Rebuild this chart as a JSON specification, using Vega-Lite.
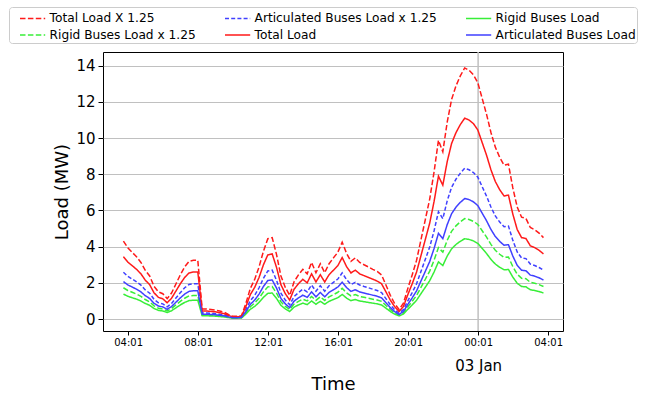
{
"$schema": "https://vega.github.io/schema/vega-lite/v6.json",
"width": 460, "height": 279,
"autosize": "none",
"padding": {"left": 103, "top": 52, "right": 83, "bottom": 64},
"background": "white",
"config": {"font": "DejaVu Sans", "view": {"stroke": "black", "strokeWidth": 1}},
"resolve": {"scale": {"x": "independent"}, "axis": {"x": "independent"}},
"layer": [
{
"data": {"values": [{"t": "2020-01-03T00:01:00Z"}]},
"mark": {"type": "rule", "color": "#c0c0c0", "strokeWidth": 1.5},
"encoding": {
"x": {"field": "t", "type": "temporal",
"scale": {"type": "utc", "domain": [{"year": 2020, "month": 1, "date": 2, "hours": 2, "minutes": 35, "utc": true}, {"year": 2020, "month": 1, "date": 3, "hours": 4, "minutes": 52, "utc": true}]},
"axis": {"orient": "bottom", "values": [{"year": 2020, "month": 1, "date": 3, "hours": 0, "minutes": 1, "utc": true}], "labelExpr": "'03 Jan'", "domain": false, "ticks": false, "tickSize": 0, "grid": false, "labelFontSize": 15, "labelPadding": 27, "labelColor": "black", "labelFlush": false, "title": "Time", "titleFontSize": 18, "titleFontWeight": "normal", "titleColor": "black", "titlePadding": 2}}
}
},
{
"data": {"values": [
{"t":"2020-01-02T03:45:00Z","T":3.45,"A":2.07,"R":1.38,"T125":4.31,"A125":2.59,"R125":1.73},
{"t":"2020-01-02T04:00:00Z","T":3.15,"A":1.89,"R":1.26,"T125":3.94,"A125":2.36,"R125":1.58},
{"t":"2020-01-02T04:15:00Z","T":2.95,"A":1.77,"R":1.18,"T125":3.69,"A125":2.21,"R125":1.48},
{"t":"2020-01-02T04:30:00Z","T":2.75,"A":1.65,"R":1.10,"T125":3.44,"A125":2.06,"R125":1.38},
{"t":"2020-01-02T04:45:00Z","T":2.5,"A":1.5,"R":1.0,"T125":3.13,"A125":1.88,"R125":1.25},
{"t":"2020-01-02T05:00:00Z","T":2.15,"A":1.29,"R":0.86,"T125":2.69,"A125":1.61,"R125":1.08},
{"t":"2020-01-02T05:15:00Z","T":1.9,"A":1.14,"R":0.76,"T125":2.38,"A125":1.43,"R125":0.95},
{"t":"2020-01-02T05:30:00Z","T":1.45,"A":0.87,"R":0.58,"T125":1.81,"A125":1.09,"R125":0.73},
{"t":"2020-01-02T05:45:00Z","T":1.2,"A":0.72,"R":0.48,"T125":1.5,"A125":0.9,"R125":0.6},
{"t":"2020-01-02T06:00:00Z","T":1.12,"A":0.67,"R":0.45,"T125":1.4,"A125":0.84,"R125":0.56},
{"t":"2020-01-02T06:15:00Z","T":0.9,"A":0.54,"R":0.36,"T125":1.13,"A125":0.68,"R125":0.45},
{"t":"2020-01-02T06:30:00Z","T":1.15,"A":0.69,"R":0.46,"T125":1.44,"A125":0.86,"R125":0.58},
{"t":"2020-01-02T06:45:00Z","T":1.55,"A":0.93,"R":0.62,"T125":1.94,"A125":1.16,"R125":0.78},
{"t":"2020-01-02T07:00:00Z","T":1.95,"A":1.17,"R":0.78,"T125":2.44,"A125":1.46,"R125":0.98},
{"t":"2020-01-02T07:15:00Z","T":2.3,"A":1.38,"R":0.92,"T125":2.88,"A125":1.73,"R125":1.15},
{"t":"2020-01-02T07:30:00Z","T":2.55,"A":1.53,"R":1.02,"T125":3.19,"A125":1.91,"R125":1.28},
{"t":"2020-01-02T07:45:00Z","T":2.6,"A":1.56,"R":1.04,"T125":3.25,"A125":1.95,"R125":1.3},
{"t":"2020-01-02T08:00:00Z","T":2.6,"A":1.56,"R":1.04,"T125":3.25,"A125":1.95,"R125":1.3},
{"t":"2020-01-02T08:15:00Z","T":0.45,"A":0.27,"R":0.18,"T125":0.56,"A125":0.34,"R125":0.23},
{"t":"2020-01-02T08:30:00Z","T":0.45,"A":0.27,"R":0.18,"T125":0.56,"A125":0.34,"R125":0.23},
{"t":"2020-01-02T08:45:00Z","T":0.42,"A":0.25,"R":0.17,"T125":0.53,"A125":0.32,"R125":0.21},
{"t":"2020-01-02T09:00:00Z","T":0.4,"A":0.24,"R":0.16,"T125":0.5,"A125":0.3,"R125":0.2},
{"t":"2020-01-02T09:15:00Z","T":0.35,"A":0.21,"R":0.14,"T125":0.44,"A125":0.26,"R125":0.18},
{"t":"2020-01-02T09:30:00Z","T":0.3,"A":0.18,"R":0.12,"T125":0.38,"A125":0.23,"R125":0.15},
{"t":"2020-01-02T09:45:00Z","T":0.2,"A":0.12,"R":0.08,"T125":0.25,"A125":0.15,"R125":0.1},
{"t":"2020-01-02T10:00:00Z","T":0.12,"A":0.07,"R":0.05,"T125":0.15,"A125":0.09,"R125":0.06},
{"t":"2020-01-02T10:15:00Z","T":0.12,"A":0.07,"R":0.05,"T125":0.15,"A125":0.09,"R125":0.06},
{"t":"2020-01-02T10:30:00Z","T":0.15,"A":0.09,"R":0.06,"T125":0.19,"A125":0.11,"R125":0.08},
{"t":"2020-01-02T10:45:00Z","T":0.7,"A":0.42,"R":0.28,"T125":0.88,"A125":0.53,"R125":0.35},
{"t":"2020-01-02T11:00:00Z","T":1.35,"A":0.81,"R":0.54,"T125":1.69,"A125":1.01,"R125":0.68},
{"t":"2020-01-02T11:15:00Z","T":1.75,"A":1.05,"R":0.7,"T125":2.19,"A125":1.31,"R125":0.88},
{"t":"2020-01-02T11:30:00Z","T":2.3,"A":1.38,"R":0.92,"T125":2.88,"A125":1.73,"R125":1.15},
{"t":"2020-01-02T11:45:00Z","T":3.0,"A":1.8,"R":1.2,"T125":3.75,"A125":2.25,"R125":1.5},
{"t":"2020-01-02T12:00:00Z","T":3.55,"A":2.13,"R":1.42,"T125":4.44,"A125":2.66,"R125":1.78},
{"t":"2020-01-02T12:15:00Z","T":3.6,"A":2.16,"R":1.44,"T125":4.5,"A125":2.7,"R125":1.8},
{"t":"2020-01-02T12:30:00Z","T":2.85,"A":1.71,"R":1.14,"T125":3.56,"A125":2.14,"R125":1.43},
{"t":"2020-01-02T12:45:00Z","T":1.9,"A":1.14,"R":0.76,"T125":2.38,"A125":1.43,"R125":0.95},
{"t":"2020-01-02T13:00:00Z","T":1.4,"A":0.84,"R":0.56,"T125":1.75,"A125":1.05,"R125":0.7},
{"t":"2020-01-02T13:15:00Z","T":1.05,"A":0.63,"R":0.42,"T125":1.31,"A125":0.79,"R125":0.53},
{"t":"2020-01-02T13:30:00Z","T":1.65,"A":0.99,"R":0.66,"T125":2.06,"A125":1.24,"R125":0.83},
{"t":"2020-01-02T13:45:00Z","T":1.95,"A":1.17,"R":0.78,"T125":2.44,"A125":1.46,"R125":0.98},
{"t":"2020-01-02T14:00:00Z","T":2.2,"A":1.32,"R":0.88,"T125":2.75,"A125":1.65,"R125":1.1},
{"t":"2020-01-02T14:15:00Z","T":2.0,"A":1.2,"R":0.8,"T125":2.5,"A125":1.5,"R125":1.0},
{"t":"2020-01-02T14:30:00Z","T":2.5,"A":1.5,"R":1.0,"T125":3.13,"A125":1.88,"R125":1.25},
{"t":"2020-01-02T14:45:00Z","T":2.05,"A":1.23,"R":0.82,"T125":2.56,"A125":1.54,"R125":1.03},
{"t":"2020-01-02T15:00:00Z","T":2.45,"A":1.47,"R":0.98,"T125":3.06,"A125":1.84,"R125":1.23},
{"t":"2020-01-02T15:15:00Z","T":2.05,"A":1.23,"R":0.82,"T125":2.56,"A125":1.54,"R125":1.03},
{"t":"2020-01-02T15:30:00Z","T":2.45,"A":1.47,"R":0.98,"T125":3.06,"A125":1.84,"R125":1.23},
{"t":"2020-01-02T15:45:00Z","T":2.7,"A":1.62,"R":1.08,"T125":3.38,"A125":2.03,"R125":1.35},
{"t":"2020-01-02T16:00:00Z","T":2.95,"A":1.77,"R":1.18,"T125":3.69,"A125":2.21,"R125":1.48},
{"t":"2020-01-02T16:15:00Z","T":3.4,"A":2.04,"R":1.36,"T125":4.25,"A125":2.55,"R125":1.7},
{"t":"2020-01-02T16:30:00Z","T":2.9,"A":1.74,"R":1.16,"T125":3.63,"A125":2.18,"R125":1.45},
{"t":"2020-01-02T16:45:00Z","T":2.55,"A":1.53,"R":1.02,"T125":3.19,"A125":1.91,"R125":1.28},
{"t":"2020-01-02T17:00:00Z","T":2.7,"A":1.62,"R":1.08,"T125":3.38,"A125":2.03,"R125":1.35},
{"t":"2020-01-02T17:15:00Z","T":2.5,"A":1.5,"R":1.0,"T125":3.13,"A125":1.88,"R125":1.25},
{"t":"2020-01-02T17:30:00Z","T":2.4,"A":1.44,"R":0.96,"T125":3.0,"A125":1.8,"R125":1.2},
{"t":"2020-01-02T17:45:00Z","T":2.3,"A":1.38,"R":0.92,"T125":2.88,"A125":1.73,"R125":1.15},
{"t":"2020-01-02T18:00:00Z","T":2.2,"A":1.32,"R":0.88,"T125":2.75,"A125":1.65,"R125":1.1},
{"t":"2020-01-02T18:15:00Z","T":2.1,"A":1.26,"R":0.84,"T125":2.63,"A125":1.58,"R125":1.05},
{"t":"2020-01-02T18:30:00Z","T":1.95,"A":1.17,"R":0.78,"T125":2.44,"A125":1.46,"R125":0.98},
{"t":"2020-01-02T18:45:00Z","T":1.5,"A":0.9,"R":0.6,"T125":1.88,"A125":1.13,"R125":0.75},
{"t":"2020-01-02T19:00:00Z","T":1.05,"A":0.63,"R":0.42,"T125":1.31,"A125":0.79,"R125":0.53},
{"t":"2020-01-02T19:15:00Z","T":0.68,"A":0.41,"R":0.27,"T125":0.85,"A125":0.51,"R125":0.34},
{"t":"2020-01-02T19:30:00Z","T":0.42,"A":0.25,"R":0.17,"T125":0.53,"A125":0.32,"R125":0.21},
{"t":"2020-01-02T19:45:00Z","T":0.7,"A":0.42,"R":0.28,"T125":0.88,"A125":0.53,"R125":0.35},
{"t":"2020-01-02T20:00:00Z","T":1.35,"A":0.81,"R":0.54,"T125":1.69,"A125":1.01,"R125":0.68},
{"t":"2020-01-02T20:15:00Z","T":1.95,"A":1.17,"R":0.78,"T125":2.44,"A125":1.46,"R125":0.98},
{"t":"2020-01-02T20:30:00Z","T":2.6,"A":1.56,"R":1.04,"T125":3.25,"A125":1.95,"R125":1.3},
{"t":"2020-01-02T20:45:00Z","T":3.5,"A":2.1,"R":1.4,"T125":4.38,"A125":2.63,"R125":1.75},
{"t":"2020-01-02T21:00:00Z","T":4.4,"A":2.64,"R":1.76,"T125":5.5,"A125":3.3,"R125":2.2},
{"t":"2020-01-02T21:15:00Z","T":5.3,"A":3.18,"R":2.12,"T125":6.63,"A125":3.98,"R125":2.65},
{"t":"2020-01-02T21:30:00Z","T":6.5,"A":3.9,"R":2.6,"T125":8.13,"A125":4.88,"R125":3.25},
{"t":"2020-01-02T21:45:00Z","T":7.9,"A":4.74,"R":3.16,"T125":9.88,"A125":5.93,"R125":3.95},
{"t":"2020-01-02T22:00:00Z","T":7.4,"A":4.44,"R":2.96,"T125":9.25,"A125":5.55,"R125":3.7},
{"t":"2020-01-02T22:15:00Z","T":8.7,"A":5.22,"R":3.48,"T125":10.88,"A125":6.53,"R125":4.35},
{"t":"2020-01-02T22:30:00Z","T":9.7,"A":5.82,"R":3.88,"T125":12.13,"A125":7.28,"R125":4.85},
{"t":"2020-01-02T22:45:00Z","T":10.3,"A":6.18,"R":4.12,"T125":12.88,"A125":7.73,"R125":5.15},
{"t":"2020-01-02T23:00:00Z","T":10.75,"A":6.45,"R":4.3,"T125":13.44,"A125":8.06,"R125":5.38},
{"t":"2020-01-02T23:15:00Z","T":11.1,"A":6.66,"R":4.44,"T125":13.88,"A125":8.33,"R125":5.55},
{"t":"2020-01-02T23:30:00Z","T":11.0,"A":6.6,"R":4.4,"T125":13.75,"A125":8.25,"R125":5.5},
{"t":"2020-01-02T23:45:00Z","T":10.8,"A":6.48,"R":4.32,"T125":13.5,"A125":8.1,"R125":5.4},
{"t":"2020-01-03T00:00:00Z","T":10.45,"A":6.27,"R":4.18,"T125":13.06,"A125":7.84,"R125":5.23},
{"t":"2020-01-03T00:15:00Z","T":9.75,"A":5.85,"R":3.9,"T125":12.19,"A125":7.31,"R125":4.88},
{"t":"2020-01-03T00:30:00Z","T":9.05,"A":5.43,"R":3.62,"T125":11.31,"A125":6.79,"R125":4.53},
{"t":"2020-01-03T00:45:00Z","T":8.25,"A":4.95,"R":3.3,"T125":10.31,"A125":6.19,"R125":4.13},
{"t":"2020-01-03T01:00:00Z","T":7.6,"A":4.56,"R":3.04,"T125":9.5,"A125":5.7,"R125":3.8},
{"t":"2020-01-03T01:15:00Z","T":7.15,"A":4.29,"R":2.86,"T125":8.94,"A125":5.36,"R125":3.58},
{"t":"2020-01-03T01:30:00Z","T":6.8,"A":4.08,"R":2.72,"T125":8.5,"A125":5.1,"R125":3.4},
{"t":"2020-01-03T01:45:00Z","T":6.85,"A":4.11,"R":2.74,"T125":8.56,"A125":5.14,"R125":3.43},
{"t":"2020-01-03T02:00:00Z","T":5.8,"A":3.48,"R":2.32,"T125":7.25,"A125":4.35,"R125":2.9},
{"t":"2020-01-03T02:15:00Z","T":4.95,"A":2.97,"R":1.98,"T125":6.19,"A125":3.71,"R125":2.48},
{"t":"2020-01-03T02:30:00Z","T":4.5,"A":2.7,"R":1.8,"T125":5.63,"A125":3.38,"R125":2.25},
{"t":"2020-01-03T02:45:00Z","T":4.45,"A":2.67,"R":1.78,"T125":5.56,"A125":3.34,"R125":2.23},
{"t":"2020-01-03T03:00:00Z","T":4.05,"A":2.43,"R":1.62,"T125":5.06,"A125":3.04,"R125":2.03},
{"t":"2020-01-03T03:15:00Z","T":3.95,"A":2.37,"R":1.58,"T125":4.94,"A125":2.96,"R125":1.98},
{"t":"2020-01-03T03:30:00Z","T":3.8,"A":2.28,"R":1.52,"T125":4.75,"A125":2.85,"R125":1.9},
{"t":"2020-01-03T03:45:00Z","T":3.6,"A":2.16,"R":1.44,"T125":4.5,"A125":2.7,"R125":1.8}
]},
"transform": [{"fold": ["T125", "R125", "A125", "T", "R", "A"], "as": ["series", "value"]}],
"mark": {"type": "line", "strokeWidth": 1.5},
"encoding": {
"x": {"field": "t", "type": "temporal",
"scale": {"type": "utc", "domain": [{"year": 2020, "month": 1, "date": 2, "hours": 2, "minutes": 35, "utc": true}, {"year": 2020, "month": 1, "date": 3, "hours": 4, "minutes": 52, "utc": true}]},
"axis": {"orient": "bottom", "values": [
{"year": 2020, "month": 1, "date": 2, "hours": 4, "minutes": 1, "utc": true},
{"year": 2020, "month": 1, "date": 2, "hours": 8, "minutes": 1, "utc": true},
{"year": 2020, "month": 1, "date": 2, "hours": 12, "minutes": 1, "utc": true},
{"year": 2020, "month": 1, "date": 2, "hours": 16, "minutes": 1, "utc": true},
{"year": 2020, "month": 1, "date": 2, "hours": 20, "minutes": 1, "utc": true},
{"year": 2020, "month": 1, "date": 3, "hours": 0, "minutes": 1, "utc": true},
{"year": 2020, "month": 1, "date": 3, "hours": 4, "minutes": 1, "utc": true}],
"labelExpr": "utcFormat(datum.value, '%H:%M')", "grid": false, "domain": false, "title": null,
"tickSize": 4, "tickColor": "black", "labelFontSize": 10, "labelPadding": 2, "labelColor": "black", "labelFlush": false, "labelOverlap": false}},
"y": {"field": "value", "type": "quantitative",
"scale": {"domain": [-0.66, 14.76], "nice": false, "zero": false},
"axis": {"values": [0, 2, 4, 6, 8, 10, 12, 14], "grid": true, "gridColor": "#c0c0c0", "gridWidth": 1.2, "domain": false,
"tickSize": 5, "tickColor": "black", "labelFontSize": 15, "labelPadding": 3, "labelColor": "black",
"title": "Load (MW)", "titleFontSize": 18, "titleFontWeight": "normal", "titleColor": "black", "titlePadding": 4}},
"color": {"field": "series", "type": "nominal",
"scale": {"domain": ["T125", "A125", "R", "R125", "T", "A"], "range": ["#ff1a1a", "#4040ff", "#38ee38", "#38ee38", "#ff1a1a", "#4040ff"]},
"legend": {"orient": "none", "legendX": -94, "legendY": -45, "direction": "horizontal", "columns": 3, "title": null,
"labelFontSize": 12.2, "labelColor": "black", "labelLimit": 300, "symbolType": "M-1.4,0H1.4", "symbolSize": 324, "symbolStrokeWidth": 1.5, "symbolOffset": 12.6,
"labelOffset": 7, "columnPadding": 19, "rowPadding": 0, "padding": 1, "strokeColor": "#cccccc", "cornerRadius": 3, "fillColor": "white",
"labelExpr": "datum.value=='T125'?'Total Load X 1.25':datum.value=='A125'?'Articulated Buses Load x 1.25':datum.value=='R'?'Rigid Buses Load':datum.value=='R125'?'Rigid Buses Load x 1.25':datum.value=='T'?'Total Load':'Articulated Buses Load'"}},
"strokeDash": {"field": "series", "type": "nominal",
"scale": {"domain": ["T125", "A125", "R", "R125", "T", "A"], "range": [[5.5, 2.4], [4, 2.2], [1, 0], [5.5, 2.4], [1, 0], [1, 0]]},
"legend": {"orient": "none", "legendX": -94, "legendY": -45, "direction": "horizontal", "columns": 3, "title": null,
"labelFontSize": 12.2, "labelColor": "black", "labelLimit": 300, "symbolType": "M-1.4,0H1.4", "symbolSize": 324, "symbolStrokeWidth": 1.5, "symbolOffset": 12.6,
"labelOffset": 7, "columnPadding": 19, "rowPadding": 0, "padding": 1, "strokeColor": "#cccccc", "cornerRadius": 3, "fillColor": "white",
"labelExpr": "datum.value=='T125'?'Total Load X 1.25':datum.value=='A125'?'Articulated Buses Load x 1.25':datum.value=='R'?'Rigid Buses Load':datum.value=='R125'?'Rigid Buses Load x 1.25':datum.value=='T'?'Total Load':'Articulated Buses Load'"}}
}
}
]
}
